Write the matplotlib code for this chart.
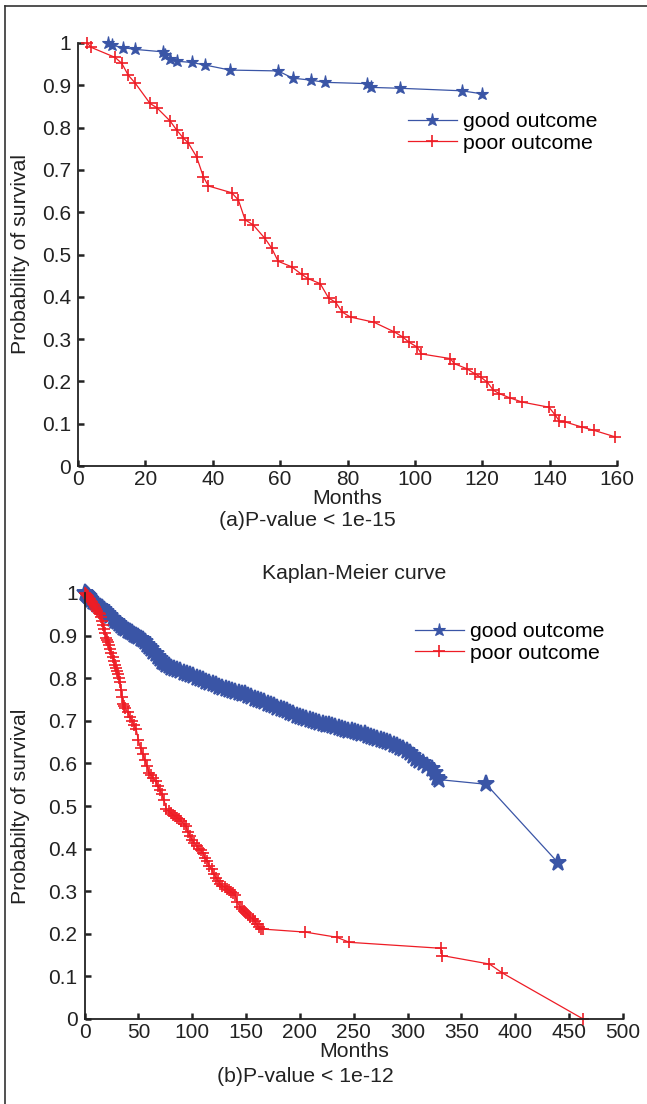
import matplotlib
matplotlib.use("Agg")
import matplotlib.pyplot as plt
from matplotlib.lines import Line2D

plt.rcParams['font.family'] = ['Liberation Sans', 'DejaVu Sans']

# ---------------- data: panel (a) ----------------
a_good_months = [9.0, 10.0, 13.4, 16.9, 25.3, 25.8, 27.3, 29.3, 33.7, 37.7, 45.1, 59.4,
                 63.7, 69.3, 73.3, 85.7, 87.1, 95.5, 113.9, 119.8]
a_good_prob = [0.999, 0.995, 0.989, 0.985, 0.979, 0.972, 0.961, 0.957, 0.954, 0.948, 0.936,
               0.934, 0.917, 0.912, 0.907, 0.904, 0.895, 0.893, 0.887, 0.880]

a_poor_months = [2.8, 3.8, 11.0, 13.0, 14.9, 16.9, 21.4, 23.4, 27.3, 29.3, 31.3, 32.7, 35.2,
                 37.2, 38.7, 45.6, 47.6, 49.6, 52.0, 55.5, 57.5, 59.4, 63.4, 66.4, 68.3, 71.9,
                 74.4, 76.5, 78.4, 80.9, 87.8, 93.9, 96.4, 98.2, 100.7, 101.9, 110.5, 111.7,
                 115.4, 117.8, 119.6, 121.5, 123.3, 125.1, 128.2, 131.9, 139.8, 141.7, 142.9,
                 144.7, 149.6, 153.3, 159.4]
a_poor_prob = [1.0, 0.99, 0.966, 0.952, 0.924, 0.906, 0.857, 0.847, 0.816, 0.794, 0.775, 0.764,
               0.731, 0.684, 0.662, 0.646, 0.629, 0.582, 0.570, 0.538, 0.515, 0.484, 0.471,
               0.453, 0.443, 0.431, 0.397, 0.387, 0.364, 0.352, 0.340, 0.317, 0.305, 0.293,
               0.281, 0.265, 0.254, 0.242, 0.230, 0.218, 0.210, 0.198, 0.179, 0.171, 0.161,
               0.151, 0.139, 0.120, 0.106, 0.104, 0.092, 0.084, 0.069]

# ---------------- data: panel (b) ----------------
b_good_months = [0, 1, 2, 3, 4, 5, 6, 8, 10, 12, 14, 16, 18, 20, 22, 24, 26, 28, 30, 32, 34, 36,
                 38, 40, 42, 44, 46, 48, 50, 52, 54, 56, 58, 60, 62, 64, 66, 68, 70, 72, 74, 76,
                 78, 80, 83, 86, 89, 92, 95, 98, 101, 104, 107, 110, 113, 116, 119, 122, 125,
                 128, 131, 134, 137, 140, 143, 146, 149, 152, 155, 158, 161, 164, 167, 170, 173,
                 176, 179, 182, 185, 188, 191, 194, 197, 200, 203, 206, 209, 212, 215, 218, 221,
                 224, 227, 230, 233, 236, 239, 242, 245, 248, 251, 254, 257, 260, 263, 266, 269,
                 272, 275, 278, 281, 284, 287, 290, 293, 296, 299, 302, 305, 308, 311, 314, 318,
                 323, 325, 327, 329, 373, 440]
b_good_prob = [1.0, 0.998, 0.995, 0.992, 0.99, 0.986, 0.983, 0.979, 0.976, 0.972, 0.968, 0.964,
               0.96, 0.955, 0.95, 0.945, 0.94, 0.935, 0.931, 0.927, 0.923, 0.919, 0.915, 0.911,
               0.908, 0.905, 0.902, 0.899, 0.896, 0.893, 0.889, 0.884, 0.879, 0.873, 0.868,
               0.862, 0.856, 0.85, 0.844, 0.839, 0.835, 0.831, 0.828, 0.825, 0.822, 0.819,
               0.816, 0.813, 0.81, 0.807, 0.804, 0.801, 0.798, 0.795, 0.792, 0.789, 0.786,
               0.783, 0.78, 0.777, 0.775, 0.772, 0.77, 0.768, 0.766, 0.764, 0.762, 0.759,
               0.756, 0.752, 0.749, 0.746, 0.743, 0.74, 0.737, 0.734, 0.731, 0.728, 0.725,
               0.722, 0.719, 0.716, 0.712, 0.708, 0.706, 0.704, 0.702, 0.7, 0.697, 0.695,
               0.693, 0.691, 0.689, 0.687, 0.685, 0.683, 0.681, 0.679, 0.677, 0.675, 0.674,
               0.672, 0.67, 0.668, 0.665, 0.662, 0.66, 0.657, 0.655, 0.652, 0.65, 0.647, 0.644,
               0.64, 0.637, 0.633, 0.63, 0.624, 0.617, 0.611, 0.605, 0.6, 0.594, 0.586, 0.578,
               0.566, 0.562, 0.551, 0.366]

b_poor_months = [0, 1, 2, 3, 4, 5, 6, 7, 8, 9, 10, 11, 12, 13, 14, 15, 16, 17, 18, 19, 20, 21, 22,
                 23, 24, 25, 26, 27, 28, 29, 30, 31, 32, 33, 34, 35, 36, 37, 38, 40, 42, 44, 46,
                 48, 50, 52, 54, 56, 58, 60, 62, 64, 66, 68, 70, 72, 74, 76, 78, 80, 82, 84, 86,
                 88, 90, 92, 94, 96, 98, 100, 102, 104, 106, 108, 110, 112, 114, 116, 118, 120,
                 122, 124, 126, 128, 130, 132, 134, 136, 138, 140, 142, 144, 146, 148, 150, 152,
                 154, 156, 158, 160, 162, 164, 166, 205, 234, 246, 331, 332, 376, 388, 463]
b_poor_prob = [1.0, 0.998, 0.995, 0.992, 0.988, 0.985, 0.982, 0.978, 0.975, 0.971, 0.966, 0.962,
               0.958, 0.954, 0.95, 0.943, 0.935, 0.925, 0.915, 0.905, 0.895, 0.89, 0.885, 0.877,
               0.868, 0.86, 0.85, 0.84, 0.83, 0.823, 0.817, 0.81, 0.8, 0.79, 0.773, 0.757, 0.74,
               0.735, 0.73, 0.72, 0.71, 0.7, 0.69, 0.68, 0.655, 0.635, 0.622, 0.609, 0.594,
               0.578, 0.572, 0.565, 0.558, 0.548, 0.537, 0.527, 0.513, 0.492, 0.488, 0.484,
               0.48, 0.476, 0.473, 0.47, 0.465, 0.458, 0.452, 0.44, 0.43, 0.42, 0.413, 0.407,
               0.4, 0.396, 0.39, 0.378, 0.37, 0.36, 0.351, 0.341, 0.332, 0.324, 0.318, 0.313,
               0.309, 0.306, 0.302, 0.299, 0.295, 0.29, 0.275, 0.264, 0.259, 0.254, 0.25, 0.245,
               0.24, 0.234, 0.229, 0.222, 0.216, 0.212, 0.211, 0.204, 0.192, 0.18, 0.166, 0.149,
               0.129, 0.108, 0.0]

y_ticks = [0, 0.1, 0.2, 0.3, 0.4, 0.5, 0.6, 0.7, 0.8, 0.9, 1]
y_tick_labels = ["0", "0.1", "0.2", "0.3", "0.4", "0.5", "0.6", "0.7", "0.8", "0.9", "1"]
a_x_ticks = [0, 20, 40, 60, 80, 100, 120, 140, 160]
b_x_ticks = [0, 50, 100, 150, 200, 250, 300, 350, 400, 450, 500]

series_labels = ["good outcome", "poor outcome"]

BLUE = "#3a55a6"
RED = "#ee1c25"
TXT = "#222222"
FS = 15.3
TFS = 15

W, H = 647, 1104
fig = plt.figure(figsize=(W / 100, H / 100), dpi=100)


def px_axes(l, t, r, b):
    return [l / W, 1 - b / H, (r - l) / W, (b - t) / H]


def style(ax, xticks, xmax):
    ax.set_xlim(0, xmax)
    ax.set_ylim(0, 1)
    for s in ("top", "right"):
        ax.spines[s].set_visible(False)
    for s in ("left", "bottom"):
        ax.spines[s].set_linewidth(1.3)
        ax.spines[s].set_color(TXT)
    ax.set_xticks(xticks)
    ax.set_yticks(y_ticks)
    ax.set_yticklabels(y_tick_labels)
    ax.tick_params(direction="in", length=4, width=1.8, labelsize=TFS, colors=TXT)
    ax.tick_params(axis="x", pad=3)
    ax.tick_params(axis="y", pad=5)


def legend(ax, x, y):
    ax.legend(loc="upper left", bbox_to_anchor=(x / W, 1 - y / H),
              bbox_transform=fig.transFigure, frameon=False, fontsize=FS, handlelength=2.3,
              handletextpad=0.3, labelspacing=0.12, borderpad=0, borderaxespad=0)


# ---- panel (a)
ax1 = fig.add_axes(px_axes(78, 43, 617, 466))
style(ax1, a_x_ticks, 160)
ax1.plot(a_good_months, a_good_prob, color=BLUE, lw=0.9, marker="*", ms=9.5, mew=0.8,
         label=series_labels[0], clip_on=False)
ax1.plot(a_poor_months, a_poor_prob, color=RED, lw=0.9, marker="+", ms=9, mew=1.2,
         label=series_labels[1], clip_on=False)
ax1.set_xlabel("Months", fontsize=FS, labelpad=0, color=TXT)
ax1.set_ylabel("Probability of survival", fontsize=FS, color=TXT, va="center")
ax1.yaxis.set_label_coords(21 / W, 1 - 254 / H, transform=fig.transFigure)
legend(ax1, 408, 112)

# ---- panel (b)
ax2 = fig.add_axes(px_axes(84.5, 593, 623, 1019))
style(ax2, b_x_ticks, 500)
ax2.plot(b_good_months, b_good_prob, color=BLUE, lw=0.9, marker="*", ms=12.5, mew=1.4,
         label=series_labels[0], clip_on=False)
ax2.plot(b_poor_months, b_poor_prob, color=RED, lw=0.9, marker="+", ms=9, mew=1.2,
         label=series_labels[1], clip_on=False)
ax2.set_xlabel("Months", fontsize=FS, labelpad=0, color=TXT)
ax2.set_ylabel("Probabilty of survival", fontsize=FS, color=TXT, va="center")
ax2.yaxis.set_label_coords(21 / W, 1 - 806 / H, transform=fig.transFigure)
ax2.set_title("Kaplan-Meier curve", fontsize=FS, pad=10, color=TXT)
legend(ax2, 415, 622)
for h in ax2.get_legend().legend_handles[:1]:
    h.set_markersize(9.5)
    h.set_markeredgewidth(0.8)

# ---- captions
fig.text(307 / W, 1 - 520 / H, "(a)P-value < 1e-15", ha="center", va="center", fontsize=FS,
         color=TXT)
fig.text(305 / W, 1 - 1077 / H, "(b)P-value < 1e-12", ha="center", va="center", fontsize=FS,
         color=TXT)

# ---- frame lines (left and top)
fig.add_artist(Line2D([5 / W, 5 / W], [0, 1 - 6 / H], transform=fig.transFigure,
                      color="#333333", lw=1.2))
fig.add_artist(Line2D([5 / W, 1], [1 - 6 / H, 1 - 6 / H], transform=fig.transFigure,
                      color="#333333", lw=1.2))

fig.savefig("out.png", dpi=100)
